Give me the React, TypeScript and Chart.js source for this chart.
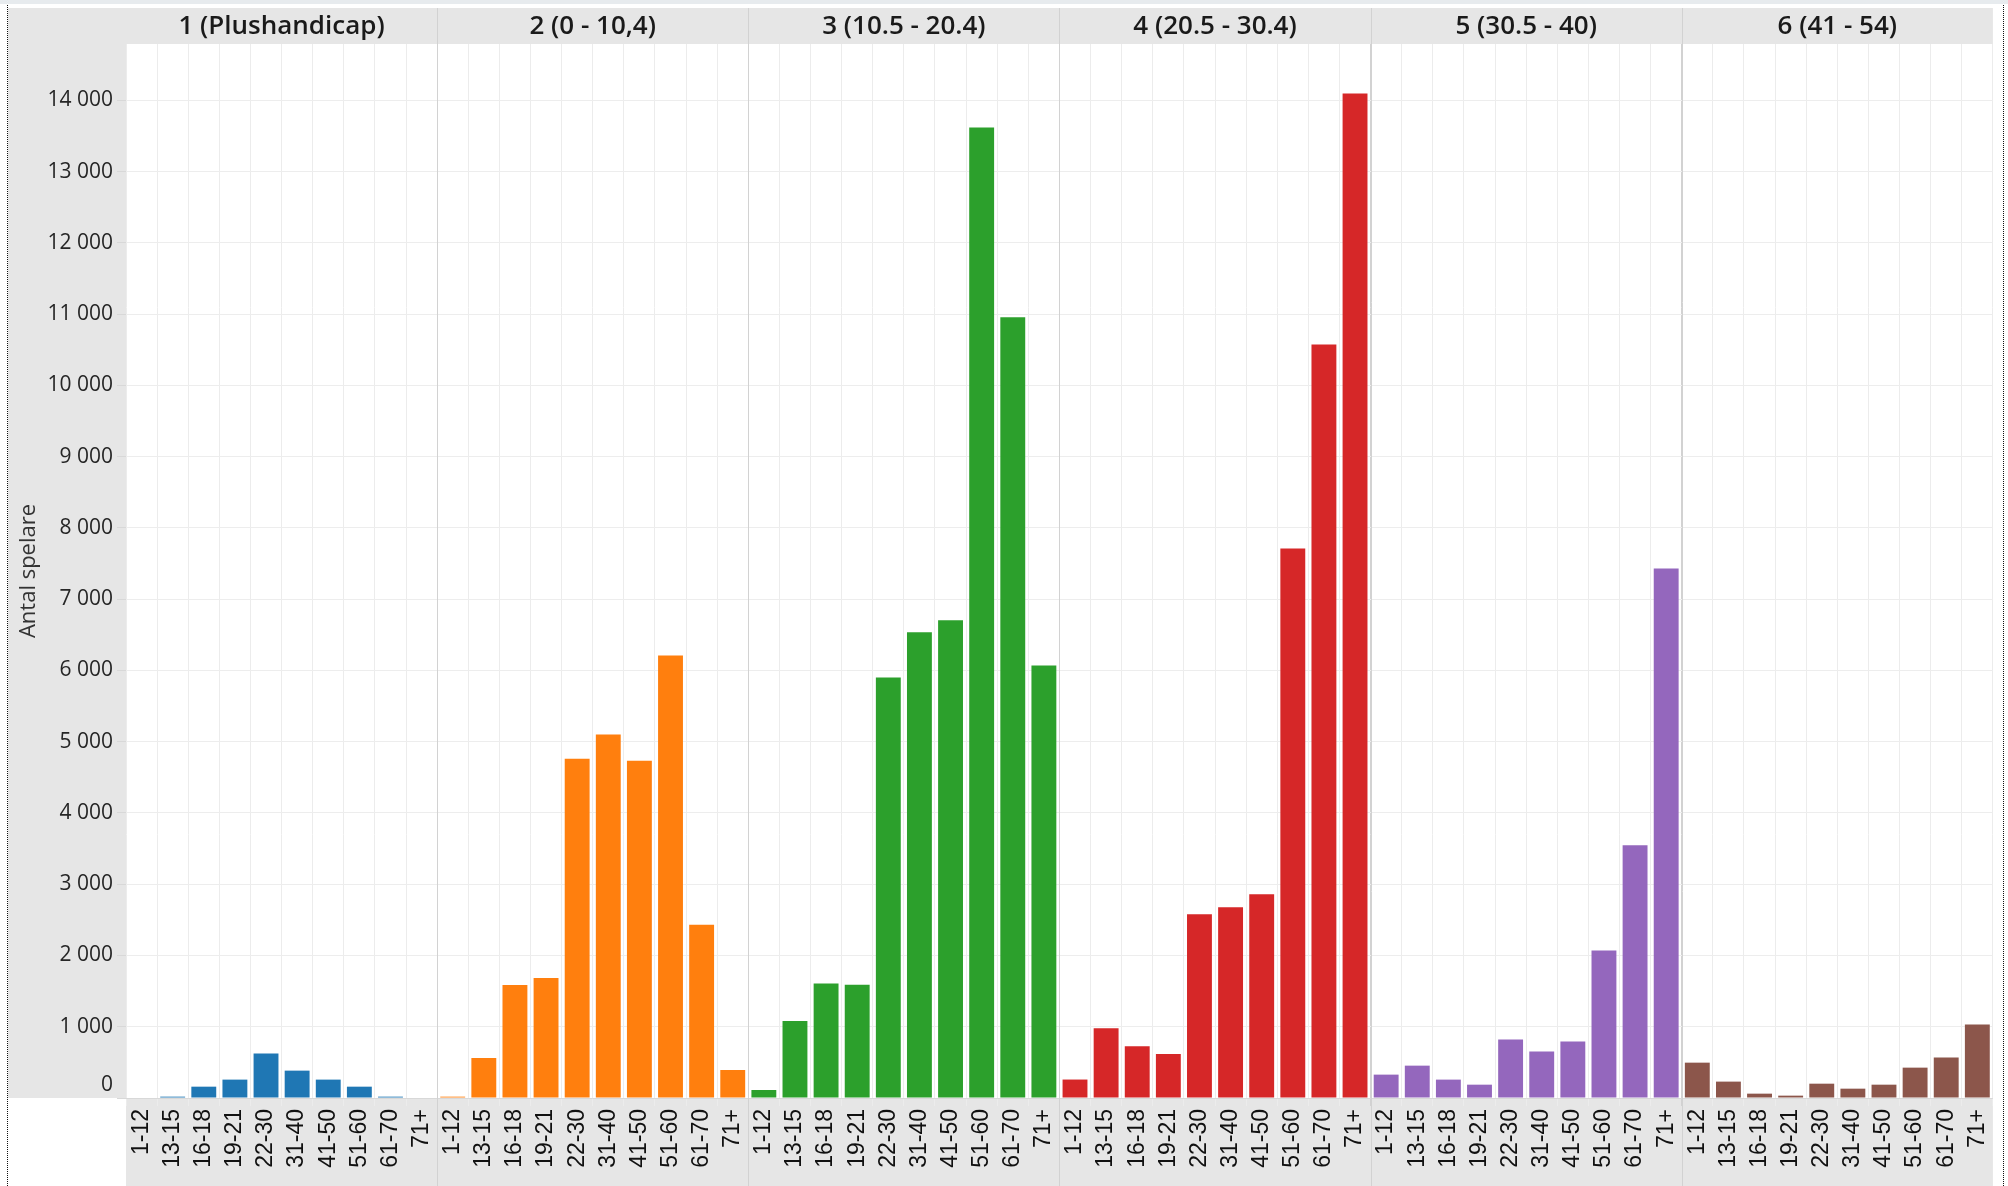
import React, { useEffect, useRef } from 'react';
import { Chart, registerables } from 'chart.js';

Chart.register(...registerables);

const W = 2008;
const H = 1186;

const ageGroups = ['1-12', '13-15', '16-18', '19-21', '22-30', '31-40', '41-50', '51-60', '61-70', '71+'];
const hcpClasses = ['1 (Plushandicap)', '2 (0 - 10,4)', '3 (10.5 - 20.4)', '4 (20.5 - 30.4)', '5 (30.5 - 40)', '6 (41 - 54)'];

const class1 = [0, 19, 159, 258, 623, 384, 258, 159, 19, 0];
const class2 = [19, 563, 1585, 1683, 4761, 5099, 4732, 6211, 2432, 393];
const class3 = [112, 1080, 1606, 1588, 5901, 6535, 6704, 13617, 10954, 6070];
const class4 = [259, 977, 726, 618, 2579, 2677, 2860, 7710, 10575, 14094];
const class5 = [328, 454, 258, 187, 820, 651, 792, 2070, 3547, 7430];
const class6 = [496, 230, 61, 33, 201, 131, 187, 426, 567, 1030];

const classColors = ['#1f77b4', '#ff7f0e', '#2ca02c', '#d62728', '#9467bd', '#8c564b'];

const yAxisTitle = 'Antal spelare';
const yTickValues = [0, 1000, 2000, 3000, 4000, 5000, 6000, 7000, 8000, 9000, 10000, 11000, 12000, 13000, 14000];
const yMax = 14790;

const allSeries = [class1, class2, class3, class4, class5, class6];

function fmt(v: number): string {
  return String(v).replace(/\B(?=(\d{3})+(?!\d))/g, ' ');
}

const decorPlugin = {
  id: 'decor',
  beforeDraw(chart: any) {
    const { ctx, chartArea: a } = chart;
    ctx.save();
    ctx.fillStyle = '#ffffff';
    ctx.fillRect(0, 0, W, H);
    ctx.fillStyle = '#e7ebee';
    ctx.fillRect(0, 0, W, 4);
    ctx.fillStyle = '#e6e6e6';
    ctx.fillRect(8, 8, a.left - 8, a.bottom - 8);
    ctx.fillRect(a.left, 8, a.right - a.left, a.top - 8);
    ctx.fillRect(a.left, a.bottom, a.right - a.left, H - a.bottom);
    ctx.restore();
  },
  afterDraw(chart: any) {
    const { ctx, chartArea: a } = chart;
    const xs = chart.scales.x;
    const ys = chart.scales.y;
    ctx.save();
    // panel separators
    ctx.strokeStyle = '#d2d2d2';
    ctx.lineWidth = 1;
    for (let p = 1; p < hcpClasses.length; p++) {
      const i = p * ageGroups.length;
      const x = Math.round((xs.getPixelForTick(i - 1) + xs.getPixelForTick(i)) / 2) + 0.5;
      ctx.beginPath();
      ctx.moveTo(x, 8);
      ctx.lineTo(x, H);
      ctx.stroke();
    }
    // header titles
    ctx.fillStyle = '#1a1a1a';
    ctx.font = '600 26px "Open Sans", "DejaVu Sans", sans-serif';
    ctx.textAlign = 'center';
    ctx.textBaseline = 'middle';
    hcpClasses.forEach((name, p) => {
      const i0 = p * ageGroups.length;
      const i1 = i0 + ageGroups.length - 1;
      const cx = (xs.getPixelForTick(i0) + xs.getPixelForTick(i1)) / 2;
      ctx.fillText(name, cx, (8 + a.top) / 2 + 1);
    });
    // y tick labels
    ctx.fillStyle = '#262626';
    ctx.font = '21px "Open Sans", "DejaVu Sans", sans-serif';
    ctx.textAlign = 'right';
    ctx.textBaseline = 'middle';
    ys.ticks.forEach((t: any) => {
      let y = ys.getPixelForValue(t.value);
      if (t.value === 0) y -= 13;
      ctx.fillText(fmt(t.value), 113, y);
    });
    // y title
    ctx.save();
    ctx.translate(29, (a.top + a.bottom) / 2);
    ctx.rotate(-Math.PI / 2);
    ctx.font = '22px "Open Sans", "DejaVu Sans", sans-serif';
    ctx.textAlign = 'center';
    ctx.textBaseline = 'middle';
    ctx.fillStyle = '#333333';
    ctx.fillText(yAxisTitle, 0, 0);
    ctx.restore();
    // dotted frame lines
    ctx.fillStyle = '#111111';
    for (let y = 5; y < H; y += 2) {
      ctx.fillRect(7, y, 1, 1);
      ctx.fillRect(2003, y, 1, 1);
    }
    ctx.restore();
  },
};

export default function App() {
  const ref = useRef<HTMLCanvasElement | null>(null);

  useEffect(() => {
    if (!ref.current) return;
    const labels: string[] = [];
    const values: number[] = [];
    const colors: string[] = [];
    allSeries.forEach((s, p) => {
      s.forEach((v, i) => {
        labels.push(ageGroups[i]);
        values.push(v);
        colors.push(classColors[p]);
      });
    });
    const n = labels.length;
    const chart = new Chart(ref.current, {
      type: 'bar',
      data: {
        labels,
        datasets: [
          {
            data: values,
            backgroundColor: colors,
            borderWidth: 0,
            barPercentage: 0.8,
            categoryPercentage: 1.0,
          },
        ],
      },
      options: {
        animation: false,
        responsive: false,
        devicePixelRatio: 1,
        layout: { padding: { left: 0, top: 44, right: 8, bottom: 0 } },
        plugins: {
          legend: { display: false },
          tooltip: { enabled: false },
        },
        scales: {
          x: {
            type: 'category',
            offset: true,
            grid: {
              offset: true,
              color: (c: any) => (c.index % 10 === 0 && c.index > 0 && c.index < n ? '#d2d2d2' : '#ececec'),
              tickLength: 8,
              lineWidth: 1,
            },
            border: { display: false },
            ticks: {
              autoSkip: false,
              minRotation: 90,
              maxRotation: 90,
              padding: 3,
              color: '#111111',
              font: { family: '"Liberation Sans", Arial, sans-serif', size: 23 },
            },
            afterFit: (s: any) => {
              s.height = 88;
            },
          },
          y: {
            type: 'linear',
            min: 0,
            max: yMax,
            grid: {
              color: (c: any) => (c.tick && c.tick.value === 0 ? '#d8d8d8' : '#ededed'),
              tickColor: '#d8d8d8',
              tickLength: 9,
              lineWidth: 1,
            },
            border: { display: false },
            ticks: {
              display: false,
            },
            afterBuildTicks: (s: any) => {
              s.ticks = yTickValues.map((v) => ({ value: v }));
            },
            afterFit: (s: any) => {
              s.width = 126;
            },
          },
        },
      },
      plugins: [decorPlugin],
    });
    return () => chart.destroy();
  }, []);

  return (
    <div style={{ position: 'fixed', left: 0, top: 0, width: W, height: H, background: '#fff', overflow: 'hidden' }}>
      <canvas ref={ref} width={W} height={H} style={{ display: 'block', width: W, height: H }} />
    </div>
  );
}
